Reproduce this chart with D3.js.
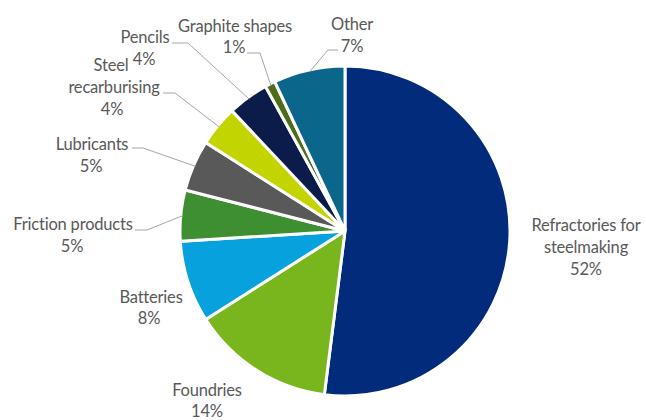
<!DOCTYPE html>
<html><head><meta charset="utf-8">
<script src="https://cdn.jsdelivr.net/npm/d3@7"></script>
<style>body{margin:0;background:#fff}</style>
</head><body>
<svg id="c" width="646" height="420"></svg>
<script>
const categories = ["Refractories for steelmaking","Foundries","Batteries","Friction products","Lubricants","Steel recarburising","Pencils","Graphite shapes","Other"];
const values = [52,14,8,5,5,4,4,1,7];
const colors = ["#022b7c","#79b51c","#07a1dd","#3d8f31","#595959","#c3d500","#0b1c4a","#4e6d1b","#0b668c"];
const labelLines = [
  ["Refractories for","steelmaking","52%"],
  ["Foundries","14%"],
  ["Batteries","8%"],
  ["Friction products","5%"],
  ["Lubricants","5%"],
  ["Steel","recarburising","4%"],
  ["Pencils","4%"],
  ["Graphite shapes","1%"],
  ["Other","7%"]
];
// layout: label line centers and leader elbows
const labelLayout = [
  {x:[586,586,586], y:[225,247,269]},
  {x:[207,207], y:[390,411]},
  {x:[151,149], y:[297,318]},
  {x:[73,72], y:[224,246]},
  {x:[92,91], y:[144,166]},
  {x:[111,114,112], y:[65,87,109]},
  {x:[145,144], y:[37,59]},
  {x:[235,234], y:[26,47]},
  {x:[352,352], y:[24,46]}
];
const leaders = [null,null,null,
  {x0:135,x1:147,y:230},
  {x0:132,x1:143,y:148},
  {x0:163,x1:175,y:93},
  {x0:172,x1:188,y:43},
  {x0:247,x1:260,y:53},
  {x0:338,x1:328,y:50}
];

const cx=345, cy=231, R=165;
const svg=d3.select("#c");
const g=svg.append("g").attr("transform",`translate(${cx},${cy})`);
const data=categories.map((c,i)=>({c,v:values[i],i}));
const pie=d3.pie().value(d=>d.v).sort(null);
const arcs=pie(data);
const arc=d3.arc().innerRadius(0).outerRadius(R);
g.selectAll("path.s").data(arcs).join("path").attr("class","s")
  .attr("d",arc).attr("fill",d=>colors[d.data.i])
  .attr("stroke","#fff").attr("stroke-width",3).attr("stroke-linejoin","miter");

// leader lines
arcs.forEach(a=>{
  const L=leaders[a.data.i]; if(!L) return;
  const m=(a.startAngle+a.endAngle)/2;
  const px=cx+Math.sin(m)*(R-2), py=cy-Math.cos(m)*(R-2);
  svg.append("polyline").attr("points",`${L.x0},${L.y} ${L.x1},${L.y} ${px},${py}`)
    .attr("fill","none").attr("stroke","#a6a6a6").attr("stroke-width",1);
});

// labels
labelLines.forEach((lines,i)=>{
  const lay=labelLayout[i];
  lines.forEach((t,j)=>{
    svg.append("text").attr("x",lay.x[j]).attr("y",lay.y[j])
      .attr("text-anchor","middle").attr("dominant-baseline","central")
      .attr("font-family","Lato, 'Open Sans', sans-serif").attr("font-size",16.5)
      .attr("fill","#595959").attr("letter-spacing",-0.2).text(t);
  });
});
</script>
</body></html>
